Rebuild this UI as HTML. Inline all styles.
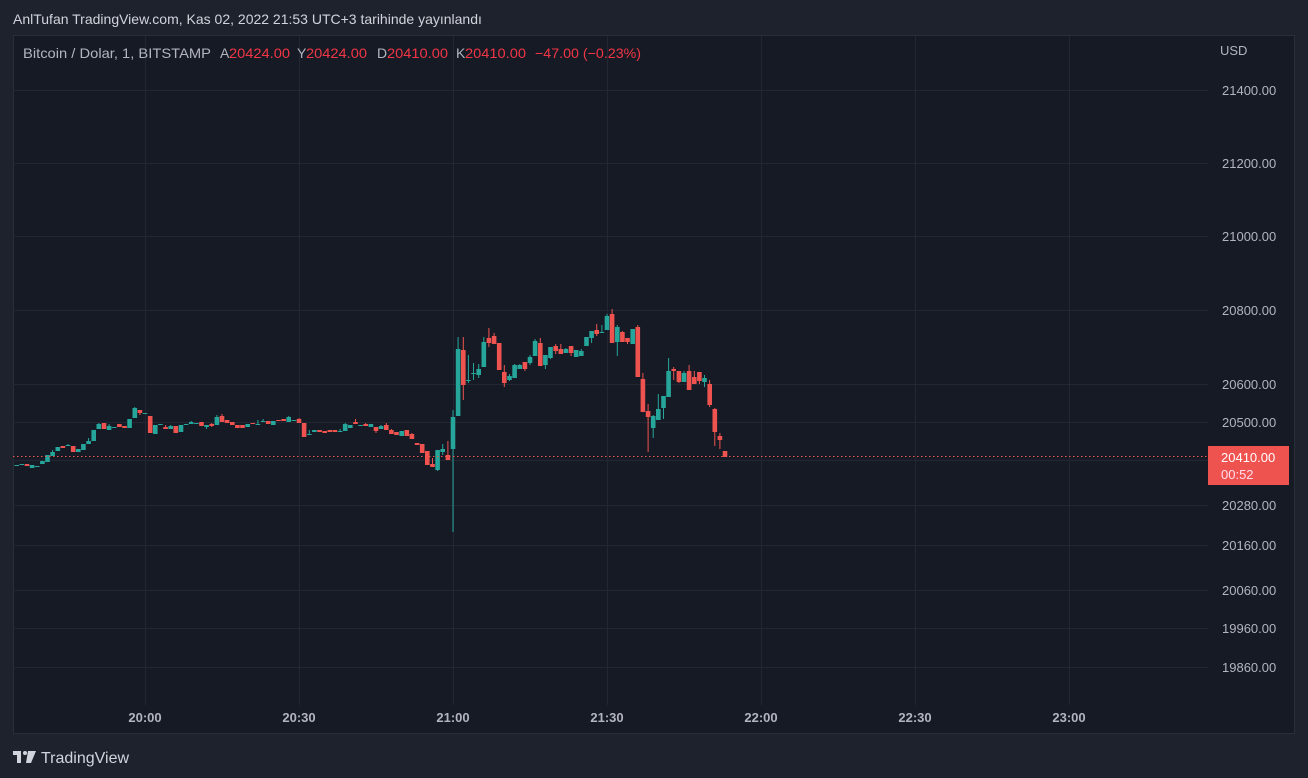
<!DOCTYPE html>
<html><head><meta charset="utf-8"><style>
html,body{margin:0;padding:0;background:#1e222d;width:1308px;height:778px;overflow:hidden;font-family:"Liberation Sans",sans-serif}
svg{position:absolute;left:0;top:0}
</style></head><body>
<svg id="s" width="1308" height="778" xmlns="http://www.w3.org/2000/svg">
<rect x="0" y="0" width="1308" height="778" fill="#1e222d"/>
<rect x="13.5" y="35.5" width="1281" height="698" fill="#161a25" stroke="#2a2e39"/>
<g id="grid" stroke="#232734" stroke-width="1"></g>
<g id="c"></g>
<line x1="13" y1="456.5" x2="1208" y2="456.5" stroke="#ef5350" stroke-width="1" stroke-dasharray="1.5,2.5"/>
<text x="13" y="24" fill="#d1d4dc" font-size="14">AnlTufan TradingView.com, Kas 02, 2022 21:53 UTC+3 tarihinde yayınlandı</text>
<g font-size="14" fill="#b2b5be">
<text x="23" y="58" textLength="188" lengthAdjust="spacingAndGlyphs">Bitcoin / Dolar, 1, BITSTAMP</text>
<text x="220" y="58">A</text><text x="229" y="58" fill="#f23645" textLength="61" lengthAdjust="spacingAndGlyphs">20424.00</text>
<text x="297" y="58">Y</text><text x="306" y="58" fill="#f23645" textLength="61" lengthAdjust="spacingAndGlyphs">20424.00</text>
<text x="377" y="58">D</text><text x="387" y="58" fill="#f23645" textLength="61" lengthAdjust="spacingAndGlyphs">20410.00</text>
<text x="456" y="58">K</text><text x="465" y="58" fill="#f23645" textLength="61" lengthAdjust="spacingAndGlyphs">20410.00</text>
<text x="535" y="58" fill="#f23645" textLength="106" lengthAdjust="spacingAndGlyphs">−47.00 (−0.23%)</text>
</g>
<text x="1220" y="55" font-size="13" fill="#b2b5be">USD</text>
<g id="pl" font-size="13" fill="#b2b5be"></g>
<rect x="1208" y="446" width="81" height="39" fill="#ef5350"/>
<text x="1221" y="462" font-size="13" fill="#fff">20410.00</text>
<text x="1221" y="479" font-size="13" fill="#fde">00:52</text>
<g id="tl" font-size="13" fill="#b2b5be" font-weight="bold" text-anchor="middle"></g>
<g fill="#d1d4dc"><rect x="13" y="751" width="8" height="4"/><rect x="17" y="751" width="4" height="12"/><circle cx="25" cy="753" r="2"/><polygon points="28,751 36,751 31,763 26,763"/></g>
<text x="41" y="763" font-size="16" fill="#d1d4dc">TradingView</text>
</svg>
<script>
var NS="http://www.w3.org/2000/svg";
function el(p,t,a,txt){var e=document.createElementNS(NS,t);for(var k in a)e.setAttribute(k,a[k]);if(txt)e.textContent=txt;document.getElementById(p).appendChild(e);}
[90,163,236,310,384,422,460,505,545,590,628,667].forEach(function(y){el("grid","line",{x1:13,x2:1208,y1:y+.5,y2:y+.5});});
[145,299,453,607,761,915,1069].forEach(function(x){el("grid","line",{x1:x+.5,x2:x+.5,y1:36,y2:705});});
var pl=[[90,"21400.00"],[163,"21200.00"],[236,"21000.00"],[310,"20800.00"],[384,"20600.00"],[422,"20500.00"],[505,"20280.00"],[545,"20160.00"],[590,"20060.00"],[628,"19960.00"],[667,"19860.00"]];
pl.forEach(function(p){el("pl","text",{x:1222,y:p[0]+5},p[1]);});
[["20:00",145],["20:30",299],["21:00",453],["21:30",607],["22:00",761],["22:30",915],["23:00",1069]].forEach(function(t){el("tl","text",{x:t[1],y:722},t[0]);});
var d=[
["g",465,465],["g",464,465],["r",464,466],["g",465,468],["g",466,466],["g",461,464],["g",455,462],["g",452,456,450],["g",447,451],["r",446,448],
["g",445,445,444],["r",446,452],["g",449,452],["g",444,450],["g",441,444,438],["g",430,441],["g",424,429,423],["r",423,429],["g",426,430,424],["g",427,427],
["r",424,427],["r",426,428],["g",419,428],["g",408,418,407],["r",410,413,410,415],["g",413,413],["r",416,433],["g",425,434],["g",424,424],["r",427,429,425],
["g",426,429,425],["r",426,433],["g",425,432],["g",424,424],["g",422,424,421],["g",423,423],["r",422,426],["g",425,427,425,429],["r",424,426,423,427],["g",417,425,415],
["r",416,422,414],["r",420,423],["r",422,425],["r",425,428],["r",425,428],["g",424,427],["r",423,424],["g",424,424,420],["g",421,421,419],["r",421,424],
["g",421,425],["r",420,420],["r",419,421],["g",417,422,416],["g",420,420],["r",419,423,418],["r",423,437],["g",434,434,430],["g",430,432],["r",430,432],
["r",431,433],["r",430,432],["r",430,432],["g",431,431,429],["g",424,431,423],["g",425,428],["r",422,424,419],["g",425,425],["r",424,426,423],["g",424,427],
["r",427,431,427,433],["g",426,429,425],["r",425,430,423],["r",430,434,429],["r",432,435],["g",431,436],["r",430,436],["r",434,439,433],["r",443,445],["r",444,453],
["r",451,465],["r",464,467,458],["g",450,470,450,471],["g",449,452,444,455],["r",455,460,441],["g",417,449,410,532],["g",349,416,337],["r",350,385,337,400],["g",380,380,355,383],["g",373,373,363,380],
["g",369,375,364,378],["g",342,367,337],["r",338,343,328,347],["r",336,344,333],["r",343,370],["r",372,383,365,387],["g",376,380,374,381],["g",365,378,364],["g",365,369,364],["r",362,369,362,371],
["g",357,363,355,365],["g",341,356,339],["r",343,366,338],["g",355,365,355,369],["g",347,358,347,359],["r",346,351,344,354],["r",349,354,344],["g",349,353,348],["r",346,353,346,356],["g",350,357],
["g",351,356,349],["g",337,346],["g",331,338,331,343],["r",330,334,324,336],["g",332,332,325],["g",316,330,314],["r",314,343,309],["g",327,342,325,356],["r",332,342,331],["r",338,342,338,344],
["g",329,344],["r",327,377,325],["r",379,412,373],["r",411,417,404,452],["g",416,428,415,438],["g",409,420,394],["g",396,408,396,419],["g",371,397,358],["r",369,371,367,380],["r",371,382,371,383],
["g",373,382,371],["r",371,390,365],["r",377,384,371,384],["r",372,381,372,384],["g",378,382,375,387],["r",384,405,380,407],["r",409,432,408,446],["r",436,440,433,449],["r",451,457]
];
d.forEach(function(c,i){
 var k=i-85, x=453+5.133*k;
 var col=c[0]=="g"?"#26a69a":"#ef5350";
 var t=c[1],b=c[2],wt=c[3]||t,wb=c[4]||b;
 if(wt<t||wb>b) el("c","line",{x1:x.toFixed(1),x2:x.toFixed(1),y1:wt,y2:wb,stroke:col,"stroke-width":1});
 el("c","rect",{x:(x-2.3).toFixed(1),y:t,width:4.6,height:Math.max(1,b-t),fill:col});
});
</script>
</body></html>
